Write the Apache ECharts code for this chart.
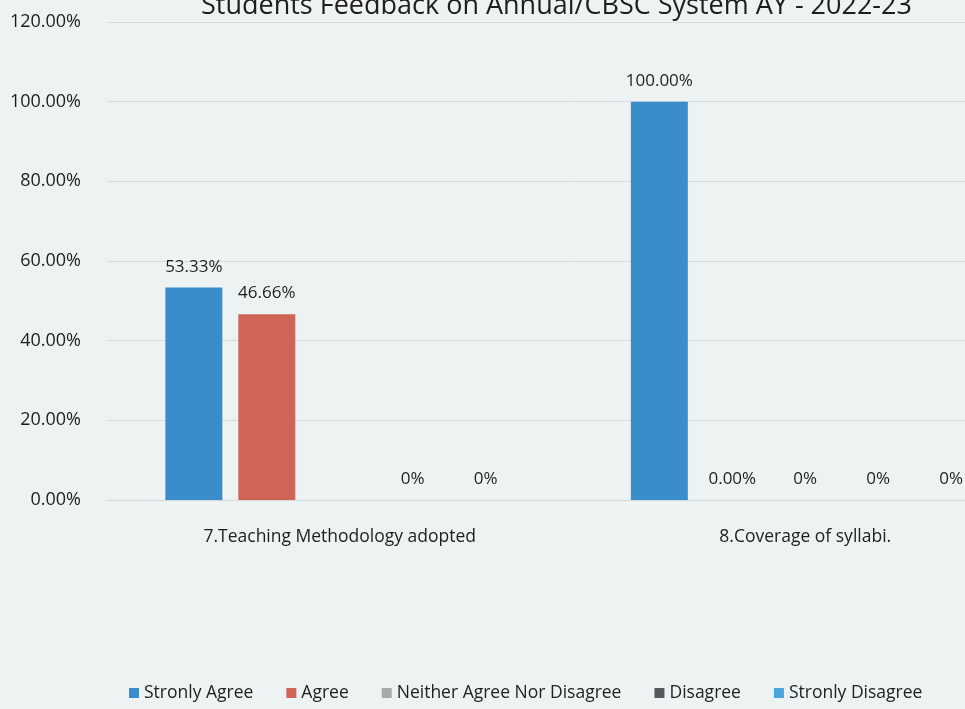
<!DOCTYPE html>
<html>
<head>
<meta charset="utf-8">
<script src="https://cdn.jsdelivr.net/npm/echarts@6/dist/echarts.min.js"></script>
<style>
  html, body { margin: 0; padding: 0; background: #edf3f3; overflow: hidden; }
  #chart { width: 1038px; height: 709px; }
</style>
</head>
<body>
<div id="chart"></div>
<script>
// 类目与数据
const categories = ['7.Teaching Methodology adopted', '8.Coverage of syllabi.']
const seriesNames = ['Stronly Agree', 'Agree', 'Neither Agree Nor Disagree', 'Disagree', 'Stronly Disagree']
const stronlyAgree = [53.33, 100]
const agree = [46.66, 0]
const neither = [null, 0]
const disagree = [0, 0]
const stronlyDisagree = [0, 0]
// 数据标签文本
const stronlyAgreeLabels = ['53.33%', '100.00%']
const agreeLabels = ['46.66%', '0.00%']
const neitherLabels = ['', '0%']
const disagreeLabels = ['0%', '0%']
const stronlyDisagreeLabels = ['0%', '0%']
const yTicks = [0, 20, 40, 60, 80, 100, 120]

const colors = ['#3b8ccb', '#cf6457', '#a5aaab', '#555a5c', '#4ba4de']
const font = '"Open Sans", "Noto Sans", sans-serif'

// 图表比窗口宽一些，右侧被裁掉
const chart = echarts.init(document.getElementById('chart'))

const makeSeries = (name, data, labels, color) => ({
  name,
  type: 'bar',
  data,
  barWidth: 57,
  barGap: '28%',
  barCategoryGap: '22%',
  itemStyle: { color },
  label: {
    show: true,
    position: 'top',
    distance: 12,
    color: '#1e1e1e',
    fontFamily: font,
    fontSize: 17,
    formatter: p => labels[p.dataIndex]
  }
})

const option = {
  backgroundColor: '#edf3f3',
  textStyle: { fontFamily: font },
  title: {
    text: 'Students Feedback on Annual/CBSC System AY - 2022-23',
    left: 196,
    top: -12,
    textStyle: { fontFamily: font, fontSize: 27, fontWeight: 'normal', color: '#1e1e1e' }
  },
  legend: {
    bottom: 2,
    left: 124,
    icon: 'rect',
    itemWidth: 10,
    itemHeight: 10,
    itemGap: 33,
    textStyle: { fontFamily: font, fontSize: 17.5, color: '#222' },
    data: seriesNames
  },
  grid: { left: 107, right: 0, top: 22, bottom: 209, containLabel: false },
  xAxis: {
    type: 'category',
    data: categories,
    axisTick: { show: false },
    axisLine: { lineStyle: { color: '#d3d9d9' } },
    axisLabel: { color: '#1e1e1e', fontSize: 17.5, fontFamily: font, margin: 28 }
  },
  yAxis: {
    type: 'value',
    min: yTicks[0],
    max: yTicks[yTicks.length - 1],
    interval: 20,
    axisLine: { show: false },
    axisLabel: {
      color: '#1e1e1e',
      fontSize: 18,
      fontFamily: font,
      margin: 26,
      formatter: v => v.toFixed(2) + '%'
    },
    splitLine: { lineStyle: { color: '#d6dcdc' } }
  },
  series: [
    makeSeries(seriesNames[0], stronlyAgree, stronlyAgreeLabels, colors[0]),
    makeSeries(seriesNames[1], agree, agreeLabels, colors[1]),
    makeSeries(seriesNames[2], neither, neitherLabels, colors[2]),
    makeSeries(seriesNames[3], disagree, disagreeLabels, colors[3]),
    makeSeries(seriesNames[4], stronlyDisagree, stronlyDisagreeLabels, colors[4])
  ]
}

chart.setOption(option)
</script>
</body>
</html>
